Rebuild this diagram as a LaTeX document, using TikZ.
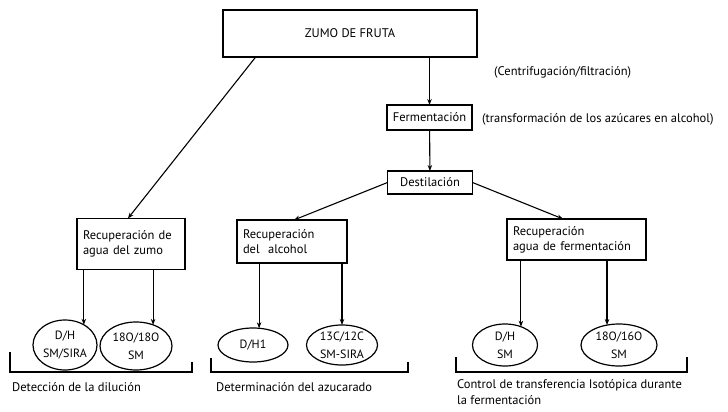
\documentclass[tikz,border=0pt]{standalone}
\usepackage{fontspec}
\setmainfont{PT Sans}
\usetikzlibrary{shapes.geometric, arrows.meta, positioning}

\begin{document}
\begin{tikzpicture}[x=1pt, y=-1pt,
  font=\fontsize{12.5}{15}\selectfont,
  procbox/.style={draw, line width=1.2pt, inner sep=0pt, outer sep=0pt},
  recbox/.style={procbox, align=left, inner xsep=6pt},
  isoell/.style={draw, ellipse, line width=1.2pt, inner sep=0pt, outer sep=0pt, align=center, font=\fontsize{12}{18}\selectfont},
  note/.style={anchor=west, inner sep=0pt},
  flow/.style={line width=1.1pt, -{Stealth[length=6pt, width=4.5pt]}},
  brack/.style={line width=1.1pt}
]
  \fill[white] (0,0) rectangle (728,412);
  \useasboundingbox (0,0) rectangle (728,412);

  % Main chain
  \node[procbox, minimum width=254pt, minimum height=47pt] (zumo) at (350, 33.5) {ZUMO DE FRUTA};
  \node[procbox, minimum width=85pt, minimum height=25pt] (ferm) at (429.5, 117.5) {Fermentación};
  \node[procbox, minimum width=85pt, minimum height=23pt] (dest) at (430, 182.5) {Destilación};
  \node[note] (centri) at (494, 72) {(Centrifugación/filtración)};
  \node[note] (transf) at (482, 119) {(transformación de los azúcares en alcohol)};

  % Recovery boxes
  \node[recbox, text width=96pt, minimum height=51pt] (recz) at (131, 244) {Recuperación~de\\agua~del~zumo};
  \node[recbox, text width=98pt, minimum height=43pt] (reca) at (292, 241.5) {Recuperación\\del\ \ alcohol};
  \node[recbox, text width=127pt, minimum height=41pt] (recf) at (576.5, 239.5) {Recuperación\\agua~de~fermentación};

  % Isotope ratios
  \node[isoell, minimum width=64pt, minimum height=50pt] (dhz) at (65, 345) {D/H\\SM/SIRA};
  \node[isoell, minimum width=72pt, minimum height=48pt] (ooz) at (136, 346) {18O/18O\\SM};
  \node[isoell, minimum width=70pt, minimum height=34pt] (dha) at (253, 345) {D/H1};
  \node[isoell, minimum width=71pt, minimum height=40pt] (cca) at (342, 345) {13C/12C\\SM-SIRA};
  \node[isoell, minimum width=65pt, minimum height=42pt] (dhf) at (505, 345) {D/H\\SM};
  \node[isoell, minimum width=76pt, minimum height=42pt] (oof) at (619, 345) {18O/16O\\SM};

  % Arrows
  \draw[flow] (ferm.north |- zumo.south) -- (ferm.north);
  \draw[flow] (ferm) -- (dest);
  \draw[flow] (zumo.194.5) -- (recz.97);
  \draw[flow] (dest.west) -- (reca.85);
  \draw[flow] (dest.east) -- (recf.123);
  \draw[flow] (recz.south -| dhz.47) -- (dhz.47);
  \draw[flow] (recz.south -| ooz.51) -- (ooz.51);
  \draw[flow] (reca.south -| dha.70) -- (dha.70);
  \draw[flow] (reca.south -| cca.north) -- (cca.north);
  \draw[flow] (recf.south -| dhf.49) -- (dhf.49);
  \draw[flow] (recf.south -| oof.121) -- (oof.121);

  % Brackets and what they measure
  \draw[brack] (10,352) -- (10,372) -- (192,372) -- (192,362);
  \draw[brack] (211,358) -- (211,372) -- (408,372) -- (408,362);
  \draw[brack] (456,357) -- (456,372) -- (687,372) -- (687,357);
  \node[note] (dilu) at (12, 387) {Detección de la dilución};
  \node[note] (azuc) at (216, 387) {Determinación del azucarado};
  \node[note, anchor=north west, align=left, font=\fontsize{12.5}{16}\selectfont] (isot) at (457, 379) {Control de transferencia Isotópica durante\\la fermentación};
\end{tikzpicture}
\end{document}
